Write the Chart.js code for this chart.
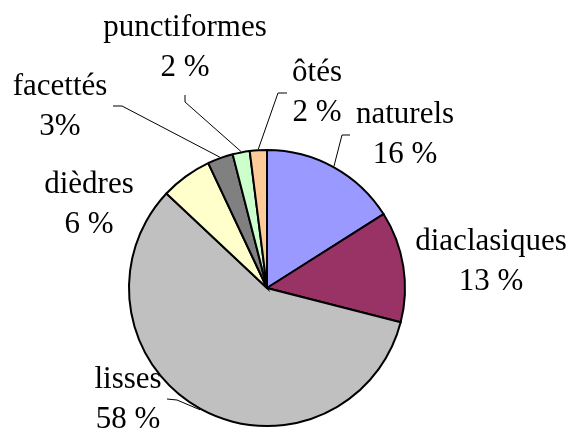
<!DOCTYPE html>
<html>
<head>
<meta charset="utf-8">
<script src="https://cdn.jsdelivr.net/npm/chart.js@4/dist/chart.umd.min.js"></script>
<style>
  html, body { margin: 0; padding: 0; background: #ffffff; }
  canvas { display: block; }
</style>
</head>
<body>
<canvas id="c" width="572" height="432"></canvas>
<script>
// Types of butts (talons) and their share, in percent
const categories = ['naturels', 'diaclasiques', 'lisses', 'dièdres', 'facettés', 'punctiformes', 'ôtés'];
const percentages = [16, 13, 58, 6, 3, 2, 2];
const percentGap = [' ', ' ', ' ', ' ', '', ' ', ' '];
const sliceColors = ['#9999FF', '#993366', '#C0C0C0', '#FFFFCC', '#808080', '#CCFFCC', '#FFCC99'];

// Label block centres and leader elbows, in px relative to the pie centre
const labelPlacement = [
  { text: [138, -173], leader: [[75, -153], [83, -153]] },
  { text: [224, -46], leader: null },
  { text: [-139, 92], leader: [[-90, 112], [-100, 111]] },
  { text: [-178, -103], leader: null },
  { text: [-207, -201], leader: [[-145, -182], [-154, -182]] },
  { text: [-82, -260], leader: [[-82, -186], [-82, -193]] },
  { text: [50, -215], leader: [[11, -195], [20, -195]] }
];

const FONT = '31px "Liberation Serif", "Times New Roman", serif';
const LINE_GAP = 40;

const pieLabels = {
  id: 'pieLabels',
  afterDatasetsDraw(chart) {
    const ctx = chart.ctx;
    const meta = chart.getDatasetMeta(0);
    ctx.save();
    meta.data.forEach((arc, i) => {
      const p = arc.getProps(['x', 'y', 'startAngle', 'endAngle', 'outerRadius'], true);
      const place = labelPlacement[i];
      const cx = p.x, cy = p.y;
      if (place.leader) {
        const mid = (p.startAngle + p.endAngle) / 2;
        const r = p.outerRadius + 1;
        ctx.beginPath();
        ctx.strokeStyle = '#000000';
        ctx.lineWidth = 1;
        ctx.moveTo(cx + Math.cos(mid) * r, cy + Math.sin(mid) * r);
        place.leader.forEach(pt => ctx.lineTo(cx + pt[0], cy + pt[1]));
        ctx.stroke();
      }
      ctx.fillStyle = '#000000';
      ctx.font = FONT;
      ctx.textAlign = 'center';
      ctx.textBaseline = 'middle';
      const tx = cx + place.text[0];
      const ty = cy + place.text[1];
      const value = chart.data.datasets[0].data[i];
      ctx.fillText(chart.data.labels[i], tx, ty);
      ctx.fillText(value + percentGap[i] + '%', tx, ty + LINE_GAP);
    });
    ctx.restore();
  }
};

new Chart(document.getElementById('c'), {
  type: 'pie',
  data: {
    labels: categories,
    datasets: [{
      data: percentages,
      backgroundColor: sliceColors,
      borderColor: '#000000',
      borderWidth: 2,
      borderJoinStyle: 'miter',
      borderAlign: 'center'
    }]
  },
  options: {
    responsive: false,
    devicePixelRatio: 1,
    animation: false,
    layout: { padding: { left: 128, right: 166, top: 149, bottom: 5 } },
    plugins: {
      legend: { display: false },
      tooltip: { enabled: false }
    }
  },
  plugins: [pieLabels]
});
</script>
</body>
</html>
